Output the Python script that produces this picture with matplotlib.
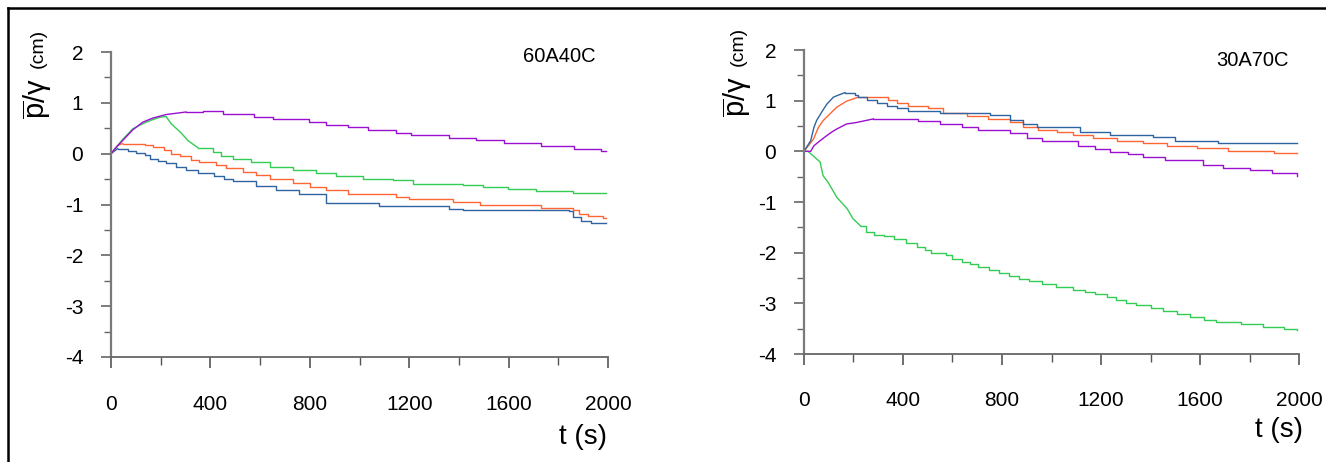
"""Two panels of mean pressure head p/gamma against time, drawn as step lines."""

import matplotlib

matplotlib.use("Agg")
import matplotlib.pyplot as plt
from matplotlib.lines import Line2D
from matplotlib.ticker import MultipleLocator

plt.rcParams["font.family"] = ["Liberation Sans", "DejaVu Sans"]
plt.rcParams["mathtext.fontset"] = "custom"
plt.rcParams["mathtext.rm"] = "Liberation Sans"
plt.rcParams["axes.unicode_minus"] = False

W, H = 1326, 462

BLUE = "#2f64a3"
ORANGE = "#ff6633"
GREEN = "#33cc55"
PURPLE = "#9a0fd0"

# --- 60A40C ---------------------------------------------------------------
left_blue_t = [0, 27, 54, 68, 101, 135, 155, 188, 222, 262, 302, 349, 416, 456, 490,
               584, 664, 758, 866, 979, 1080, 1362, 1415, 1845, 1858, 1891, 1932, 1990]
left_blue_v = [0, 0.10, 0.09, 0.05, 0.01, -0.03, -0.10, -0.14, -0.18, -0.27, -0.33,
               -0.38, -0.44, -0.49, -0.54, -0.64, -0.71, -0.80, -0.97, -0.98, -1.02,
               -1.08, -1.11, -1.12, -1.24, -1.32, -1.37, -1.37]

left_orange_t = [0, 27, 47, 135, 168, 215, 242, 276, 322, 356, 423, 463, 530, 584, 638,
                 732, 799, 866, 953, 1147, 1201, 1375, 1483, 1730, 1858, 1885, 1918,
                 1978, 1990]
left_orange_v = [0, 0.16, 0.20, 0.18, 0.14, 0.07, 0.0, -0.05, -0.12, -0.16, -0.23,
                 -0.29, -0.36, -0.42, -0.49, -0.58, -0.65, -0.72, -0.80, -0.85, -0.90,
                 -0.95, -1.01, -1.06, -1.11, -1.18, -1.23, -1.26, -1.26]

left_green_t = [0, 20, 47, 88, 128, 168, 200, 222, 242, 262, 282, 309, 349, 409, 443,
                490, 564, 638, 732, 825, 905, 1013, 1134, 1214, 1415, 1496, 1596, 1710,
                1858, 1990]
left_green_v = [0, 0.12, 0.28, 0.49, 0.59, 0.67, 0.72, 0.73, 0.59, 0.50, 0.41, 0.26,
                0.12, 0.03, -0.05, -0.10, -0.16, -0.26, -0.33, -0.38, -0.43, -0.49,
                -0.52, -0.59, -0.62, -0.65, -0.70, -0.73, -0.78, -0.78]

left_purple_t = [0, 20, 47, 88, 128, 168, 222, 302, 369, 450, 577, 651, 798, 866, 953,
                 1033, 1147, 1207, 1362, 1469, 1583, 1730, 1865, 1972, 1990]
left_purple_v = [0, 0.12, 0.26, 0.47, 0.62, 0.70, 0.77, 0.82, 0.84, 0.78, 0.73, 0.68,
                 0.62, 0.57, 0.52, 0.46, 0.41, 0.37, 0.31, 0.26, 0.21, 0.16, 0.10,
                 0.05, 0.05]

# --- 30A70C ---------------------------------------------------------------
right_blue_t = [0, 27, 40, 51, 71, 92, 119, 139, 166, 193, 206, 220, 253, 294, 334,
                374, 422, 550, 752, 832, 886, 940, 1115, 1237, 1412, 1499, 1674, 1990]
right_blue_v = [0, 0.21, 0.47, 0.61, 0.77, 0.93, 1.07, 1.11, 1.16, 1.16, 1.11, 1.07,
                1.01, 0.96, 0.90, 0.85, 0.80, 0.75, 0.72, 0.62, 0.54, 0.49, 0.39, 0.33,
                0.28, 0.21, 0.16, 0.16]

right_orange_t = [0, 38, 58, 78, 105, 132, 172, 220, 307, 340, 374, 422, 503, 563, 657,
                  745, 832, 886, 947, 1021, 1088, 1169, 1263, 1371, 1465, 1587, 1715,
                  1897, 1990]
right_orange_v = [0, 0.24, 0.47, 0.61, 0.74, 0.87, 0.99, 1.07, 1.07, 1.02, 0.96, 0.90,
                  0.85, 0.75, 0.70, 0.64, 0.57, 0.49, 0.43, 0.38, 0.32, 0.26, 0.21,
                  0.16, 0.11, 0.06, 0.0, -0.04, -0.04]

right_green_t = [0, 16, 44, 65, 77, 97, 133, 174, 198, 230, 249, 282, 323, 365, 414,
                 456, 489, 514, 572, 597, 638, 671, 704, 746, 787, 829, 870, 911, 961,
                 1019, 1085, 1135, 1176, 1226, 1259, 1301, 1342, 1400, 1450, 1508,
                 1558, 1616, 1665, 1765, 1856, 1939, 1990]
right_green_v = [0, 0, -0.12, -0.21, -0.48, -0.61, -0.91, -1.13, -1.33, -1.48, -1.59,
                 -1.66, -1.68, -1.74, -1.81, -1.88, -1.94, -2.01, -2.05, -2.12, -2.18,
                 -2.23, -2.28, -2.35, -2.41, -2.47, -2.52, -2.56, -2.62, -2.68, -2.73,
                 -2.77, -2.82, -2.87, -2.94, -2.99, -3.04, -3.09, -3.15, -3.21, -3.27,
                 -3.32, -3.36, -3.41, -3.46, -3.51, -3.53]

right_purple_t = [0, 27, 40, 65, 92, 112, 132, 152, 172, 213, 280, 462, 550, 637, 704,
                  832, 900, 960, 1108, 1176, 1237, 1311, 1371, 1459, 1614, 1694, 1802,
                  1890, 1990]
right_purple_v = [0, 0.0, 0.11, 0.21, 0.31, 0.38, 0.44, 0.49, 0.54, 0.57, 0.64, 0.59,
                  0.54, 0.49, 0.42, 0.36, 0.26, 0.21, 0.11, 0.05, -0.01, -0.05, -0.11,
                  -0.17, -0.27, -0.33, -0.37, -0.43, -0.48]

# each series: (t, v, colour, number of leading points joined by straight
# segments; the rest is drawn as a post-step staircase)
panels = [
    {
        "name": "60A40C",
        "box": (111, 52, 608, 357),
        "name_xy": (523, 56),
        "tlabel_xy": (607, 437),
        "ylabel_x": 37,
        "series": [
            (left_blue_t, left_blue_v, BLUE, 2),
            (left_orange_t, left_orange_v, ORANGE, 3),
            (left_green_t, left_green_v, GREEN, 13),
            (left_purple_t, left_purple_v, PURPLE, 8),
        ],
    },
    {
        "name": "30A70C",
        "box": (804, 50, 1299, 354),
        "name_xy": (1216, 61),
        "tlabel_xy": (1303, 430),
        "ylabel_x": 737,
        "series": [
            (right_green_t, right_green_v, GREEN, 10),
            (right_purple_t, right_purple_v, PURPLE, 11),
            (right_orange_t, right_orange_v, ORANGE, 8),
            (right_blue_t, right_blue_v, BLUE, 9),
        ],
    },
]


def fx(px):
    return px / W


def fy(py):
    return 1 - py / H


fig = plt.figure(figsize=(W / 100, H / 100), dpi=100)

for panel in panels:
    x0, y0, x1, y1 = panel["box"]
    ax = fig.add_axes([fx(x0), fy(y1), (x1 - x0) / W, (y1 - y0) / H])
    for t, v, color, n_ramp in panel["series"]:
        ax.plot(t[:n_ramp], v[:n_ramp], color=color, lw=1.0)
        ax.step(t[n_ramp - 1:], v[n_ramp - 1:], where="post", color=color, lw=1.0)

    ax.set_xlim(0, 2000)
    ax.set_ylim(-4, 2)
    ax.xaxis.set_major_locator(MultipleLocator(400))
    ax.xaxis.set_minor_locator(MultipleLocator(200))
    ax.yaxis.set_major_locator(MultipleLocator(1))
    ax.yaxis.set_minor_locator(MultipleLocator(0.5))
    for side in ("top", "right"):
        ax.spines[side].set_visible(False)
    ax.spines["left"].set_color("#7a7a7a")
    ax.spines["left"].set_linewidth(1.6)
    ax.spines["bottom"].set_color("#666666")
    ax.spines["bottom"].set_linewidth(1.3)
    ax.tick_params(axis="y", which="major", direction="out", length=7, width=1.2,
                   color="#666666", pad=13, labelsize=15)
    ax.tick_params(axis="y", which="minor", direction="out", length=5, width=1.0,
                   color="#666666")
    ax.tick_params(axis="x", which="major", direction="out", length=8, width=1.2,
                   color="#555555", pad=19, labelsize=15)
    ax.tick_params(axis="x", which="minor", direction="out", length=6, width=1.0,
                   color="#555555")
    ax.set_yticks(range(-4, 3))
    ax.set_yticklabels([str(k) for k in range(-4, 3)])

    nx, ny = panel["name_xy"]
    fig.text(fx(nx), fy(ny), panel["name"], ha="left", va="center", fontsize=14.5)
    tx, ty = panel["tlabel_xy"]
    fig.text(fx(tx), fy(ty), "t (s)", ha="right", va="center", fontsize=20)

    lx = panel["ylabel_x"]
    fig.text(fx(lx), fy(y0 + 67), r"$\overline{\mathrm{p}}$/γ", rotation=90,
             ha="center", va="bottom", fontsize=21)
    fig.text(fx(lx + 1), fy(y0 + 16), "(cm)", rotation=90,
             ha="center", va="bottom", fontsize=14)

# frame lines along the top and left edge of the picture
fig.add_artist(Line2D([fx(8), 1], [fy(8), fy(8)], color="black", lw=1.8))
fig.add_artist(Line2D([fx(8), fx(8)], [fy(8), 0], color="black", lw=1.8))

fig.savefig("out.png", dpi=100)
